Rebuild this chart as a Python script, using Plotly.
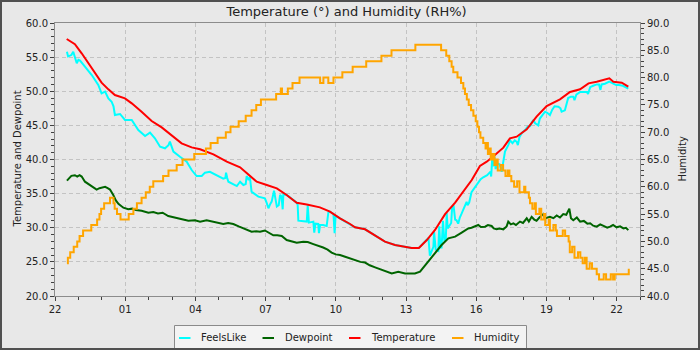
import pandas as pd
import plotly.graph_objects as go

# ---------------- data (hours after 22:00) ----------------
START = "2024-01-01 22:00"

temp_hours = [0.50, 0.85, 1.14, 1.42, 1.71, 1.99, 2.28, 2.56, 2.99, 3.28, 3.70, 4.13, 4.56, 4.99,
              5.41, 5.84, 6.20, 6.77, 7.34, 7.91, 8.33, 8.62, 9.05, 9.48, 9.90, 10.33, 10.76,
              11.32, 11.75, 12.18, 12.61, 12.82, 13.25, 13.68, 14.10, 14.53, 14.96, 15.24, 15.55,
              15.89, 16.24, 16.67, 17.10, 17.45, 17.81, 18.16, 18.45, 18.80, 19.16, 19.44, 19.73,
              20.16, 20.58, 21.01, 21.58, 22.01, 22.44, 22.80, 23.15, 23.69, 23.86, 24.22, 24.50]
temp_values = [57.66, 56.9, 55.56, 54.1, 52.6, 51.26, 50.28, 49.45, 48.96, 48.23, 47.0, 45.64, 44.71,
               43.59, 42.37, 41.78, 41.49, 40.76, 39.68, 38.85, 37.58, 36.75, 36.26, 35.78, 34.8,
               33.67, 33.4, 32.99, 32.36, 31.38, 30.55, 30.06, 29.77, 28.79, 27.96, 27.47, 27.23,
               27.03, 27.03, 28.2, 29.67, 32.0, 33.67, 35.29, 37.0, 39.05, 39.68, 40.66, 41.73,
               43.1, 43.34, 44.42, 46.28, 47.84, 48.81, 49.89, 50.28, 51.16, 51.4, 51.89, 51.4,
               51.26, 50.67]

feels_hours = [0.51, 0.56, 0.70, 0.78, 0.93, 1.00, 1.07, 1.15, 1.28, 1.57, 1.85, 1.99, 2.14, 2.28,
               2.42, 2.50, 2.56, 2.78, 2.99, 3.28, 3.56, 3.85, 4.06, 4.27, 4.49, 4.70, 4.85, 4.91,
               5.00, 5.06, 5.34, 5.63, 5.84, 6.05, 6.27, 6.41, 6.62, 6.91, 7.19, 7.28, 7.31, 7.36,
               7.41, 7.77, 7.85, 7.91, 8.05, 8.15, 8.19, 8.28, 8.33, 8.40, 8.69, 8.97, 9.05, 9.12,
               9.20, 9.26, 9.36, 9.42, 9.48, 9.56, 9.62, 9.68, 9.73, 9.76, 9.90, 10.33, 10.37,
               10.40, 10.76, 10.80, 10.85, 11.04, 11.08, 11.13, 11.25, 11.28, 11.33, 11.46, 11.61,
               11.68, 11.75, 11.90, 11.95, 11.99, 12.18, 12.61, 12.82, 13.25, 13.68, 14.10, 14.53,
               14.96, 15.24, 15.55, 15.89, 15.96, 16.02, 16.10, 16.17, 16.20, 16.27, 16.38, 16.42,
               16.47, 16.52, 16.58, 16.64, 16.70, 16.74, 16.78, 16.86, 16.93, 16.97, 17.03, 17.10,
               17.16, 17.23, 17.30, 17.38, 17.50, 17.59, 17.63, 17.70, 17.80, 17.97, 18.10, 18.19,
               18.30, 18.47, 18.55, 18.61, 18.64, 18.68, 18.72, 18.78, 18.83, 18.90, 19.00, 19.09,
               19.15, 19.23, 19.37, 19.45, 19.55, 19.65, 19.73, 19.78, 19.85, 19.95, 20.09, 20.20,
               20.30, 20.44, 20.52, 20.60, 20.65, 20.72, 20.85, 20.94, 21.05, 21.15, 21.25, 21.35,
               21.51, 21.60, 21.65, 21.79, 21.93, 22.05, 22.15, 22.20, 22.28, 22.44, 22.60, 22.73,
               22.78, 22.87, 23.00, 23.15, 23.25, 23.31, 23.36, 23.50, 23.69, 23.80, 23.98, 24.10,
               24.27, 24.50]
feels_values = [55.8, 55.1, 55.3, 55.8, 54.1, 54.6, 54.48, 54.2, 53.6, 52.38, 50.92, 49.7, 49.94,
                48.96, 48.47, 47.8, 46.52, 46.67, 45.79, 45.79, 44.32, 43.44, 43.93, 43.1, 41.88,
                41.64, 42.1, 42.61, 41.5, 41.15, 40.41, 39.68, 38.46, 37.58, 37.58, 38.07, 38.2,
                37.7, 37.2, 37.3, 38.07, 37.3, 36.75, 36.11, 36.6, 36.75, 36.26, 36.4, 37.58, 37.0,
                37.4, 35.29, 34.56, 34.32, 33.6, 32.85, 33.5, 33.83, 35.44, 34.5, 33.1, 33.3, 34.8,
                34.6, 32.7, 34.95, 34.8, 33.67, 33.34, 31.04, 30.9, 33.3, 30.75, 30.9, 29.29, 30.6,
                30.55, 29.2, 30.4, 30.4, 30.26, 32.2, 32.36, 32.0, 29.2, 31.75, 31.38, 30.55, 30.06,
                29.77, 28.79, 27.96, 27.47, 27.23, 27.03, 27.03, 28.2, 28.5, 25.9, 26.6, 27.2, 29.4,
                26.8, 26.6, 30.2, 27.1, 27.1, 31.0, 28.0, 28.2, 32.2, 29.9, 30.4, 30.7, 32.9, 33.3,
                31.2, 31.1, 30.6, 31.5, 32.1, 33.0, 33.8, 33.3, 33.7, 35.2, 36.0, 36.7, 37.1, 37.4,
                37.7, 38.0, 38.2, 37.5, 39.9, 39.0, 40.4, 38.6, 39.4, 39.3, 38.2, 39.5, 41.15, 42.1,
                42.8, 42.4, 42.8, 42.6, 42.1, 43.3, 43.9, 44.32, 44.8, 44.9, 45.8, 45.3, 45.05, 45.0,
                46.0, 46.6, 47.0, 46.8, 46.5, 47.3, 47.8, 47.74, 47.5, 47.0, 47.2, 49.0, 49.2, 49.2,
                48.7, 49.5, 49.9, 49.9, 49.9, 49.6, 50.6, 50.8, 51.0, 51.0, 50.2, 51.0, 51.1, 51.4,
                51.2, 50.9, 50.9, 50.8, 50.4]

dew_hours = [0.51, 0.60, 0.70, 0.85, 0.95, 1.05, 1.14, 1.28, 1.40, 1.50, 1.65, 1.78, 1.90, 1.99,
             2.14, 2.25, 2.35, 2.49, 2.60, 2.71, 2.92, 3.13, 3.30, 3.45, 3.70, 3.99, 4.20, 4.40,
             4.60, 4.84, 5.13, 5.41, 5.70, 5.98, 6.20, 6.48, 6.77, 7.00, 7.19, 7.40, 7.62, 7.85,
             8.05, 8.25, 8.40, 8.60, 8.76, 8.97, 9.15, 9.33, 9.50, 9.69, 9.90, 10.10, 10.33, 10.61,
             10.80, 11.04, 11.25, 11.46, 11.65, 11.82, 12.00, 12.18, 12.40, 12.61, 12.82, 13.05,
             13.25, 13.45, 13.68, 13.90, 14.10, 14.39, 14.67, 14.96, 15.20, 15.38, 15.60, 15.89,
             16.24, 16.52, 16.81, 17.10, 17.38, 17.66, 17.80, 17.95, 18.09, 18.20, 18.38, 18.50,
             18.66, 18.75, 18.87, 19.00, 19.16, 19.30, 19.37, 19.48, 19.59, 19.70, 19.87, 20.00,
             20.16, 20.25, 20.37, 20.48, 20.58, 20.70, 20.87, 20.95, 21.05, 21.15, 21.30, 21.44,
             21.58, 21.72, 21.85, 21.98, 22.05, 22.15, 22.30, 22.44, 22.60, 22.75, 22.87, 23.00,
             23.15, 23.30, 23.44, 23.60, 23.72, 23.85, 24.00, 24.15, 24.29, 24.40, 24.50]
dew_values = [36.9, 37.3, 37.6, 37.7, 37.5, 37.7, 37.5, 36.75, 36.5, 36.26, 35.9, 35.6, 35.8, 35.87,
              36.0, 35.8, 35.6, 34.8, 34.0, 33.5, 32.94, 32.7, 32.8, 32.6, 32.5, 32.2, 32.3, 32.1,
              32.2, 31.72, 31.5, 31.23, 31.03, 31.1, 30.9, 31.1, 30.9, 30.7, 30.55, 30.7, 30.55,
              30.2, 29.9, 29.7, 29.43, 29.5, 29.43, 29.6, 29.2, 28.9, 28.9, 28.8, 28.2, 28.0, 27.8,
              27.96, 27.9, 27.6, 27.4, 27.1, 26.8, 26.35, 26.1, 26.0, 25.76, 25.5, 25.18, 25.0, 24.9,
              24.5, 24.2, 23.9, 23.7, 23.3, 23.56, 23.3, 23.3, 23.3, 23.56, 24.8, 26.26, 27.47,
              28.45, 28.7, 29.3, 29.9, 30.0, 30.16, 30.4, 30.1, 30.16, 30.4, 30.26, 29.9, 29.77,
              29.9, 29.77, 30.2, 30.9, 30.5, 30.65, 30.4, 30.9, 30.7, 31.38, 30.9, 31.6, 31.2, 31.03,
              31.5, 32.0, 31.4, 31.5, 31.6, 31.4, 31.8, 31.5, 32.0, 31.9, 32.8, 31.4, 31.1, 31.5,
              30.9, 31.0, 30.6, 30.65, 30.3, 30.16, 30.5, 30.26, 30.0, 30.16, 30.4, 30.06, 30.2,
              29.9, 30.0, 29.65]

hum_hours = [0.51, 0.55, 0.65, 0.80, 0.95, 1.05, 1.20, 1.55, 1.80, 1.90, 1.97, 2.10, 2.35, 2.50,
             2.55, 2.65, 2.80, 3.15, 3.35, 3.50, 3.70, 3.88, 4.05, 4.20, 4.62, 4.85, 5.20, 5.45,
             5.95, 6.45, 6.65, 6.95, 7.30, 7.50, 7.85, 8.15, 8.40, 8.60, 8.80, 9.45, 9.65, 9.70,
             9.95, 10.15, 10.45, 11.33, 11.47, 11.68, 11.90, 12.28, 12.72, 13.30, 13.95, 14.38,
             15.40, 16.50, 16.72, 16.85, 16.95, 17.02, 17.20, 17.35, 17.45, 17.52, 17.60, 17.68,
             17.78, 17.88, 17.98, 18.05, 18.12, 18.18, 18.30, 18.40, 18.45, 18.50, 18.55, 18.62,
             18.70, 18.78, 18.85, 18.92, 19.05, 19.15, 19.25, 19.35, 19.42, 19.50, 19.62, 19.75,
             19.85, 20.05, 20.10, 20.25, 20.30, 20.40, 20.50, 20.55, 20.70, 20.78, 20.90, 20.95,
             21.10, 21.15, 21.30, 21.40, 21.45, 21.70, 21.80, 21.95, 22.00, 22.10, 22.20, 22.35,
             22.45, 22.55, 22.65, 22.72, 22.85, 22.95, 23.15, 23.25, 23.45, 23.55, 23.75, 23.85,
             23.92, 24.50, 24.52]
hum_values = [46, 47, 48, 49, 50, 51, 52, 53, 54, 55, 56, 57, 58, 57, 56, 55, 54, 55, 56, 57, 58,
              59, 60, 61, 62, 63, 64, 65, 66, 67, 68, 69, 70, 71, 72, 73, 74, 75, 76, 77, 78, 77,
              78, 79, 80, 79, 80, 79, 80, 81, 82, 83, 84, 85, 86, 85, 84, 83, 82, 81, 80, 79, 78,
              77, 76, 75, 74, 73, 72, 71, 70, 69, 68, 67, 68, 66, 67, 65, 66, 64, 65, 63, 64, 63,
              62, 63, 62, 61, 60, 61, 59, 60, 59, 58, 57, 56, 57, 55, 56, 54, 55, 53, 54, 52, 53,
              52, 51, 52, 51, 50, 48, 49, 47, 48, 47, 46, 47, 45, 46, 45, 44, 43, 44, 43, 44, 43,
              44, 44, 45]

series_names = ["FeelsLike", "Dewpoint", "Temperature", "Humidity"]
series_colors = ["#00ffff", "#006400", "#ff0000", "#ffa500"]
y_ticks_left = [20, 25, 30, 35, 40, 45, 50, 55, 60]
y_ticks_right = [40, 45, 50, 55, 60, 65, 70, 75, 80, 85, 90]

# ---------------- figure ----------------
t0 = pd.Timestamp(START)


def to_time(hours):
    return t0 + pd.to_timedelta(hours, unit="h")


FONT = "DejaVu Sans, Verdana, sans-serif"
W, H = 700, 350
L, R, T, B = 55, 60, 23, 54
PW, PH = W - L - R, H - T - B


def px(x):
    return (x - L) / PW


def py(y):
    return (H - B - y) / PH


fig = go.Figure()
fig.add_trace(go.Scatter(x=to_time(feels_hours), y=feels_values, name=series_names[0],
                         mode="lines", line=dict(color=series_colors[0], width=2)))
fig.add_trace(go.Scatter(x=to_time(dew_hours), y=dew_values, name=series_names[1],
                         mode="lines", line=dict(color=series_colors[1], width=2)))
fig.add_trace(go.Scatter(x=to_time(temp_hours), y=temp_values, name=series_names[2],
                         mode="lines", line=dict(color=series_colors[2], width=2)))
fig.add_trace(go.Scatter(x=to_time(hum_hours), y=hum_values, name=series_names[3], yaxis="y2",
                         mode="lines", line=dict(color=series_colors[3], width=2, shape="hv")))

axis_common = dict(showline=True, linecolor="#8c8c8c", linewidth=1, ticks="outside", ticklen=4,
                   tickcolor="#404040", tickfont=dict(family=FONT, size=10, color="#222222"),
                   zeroline=False)

fig.update_layout(
    width=W, height=H,
    margin=dict(l=L, r=R, t=T, b=B, pad=0),
    paper_bgcolor="#e8e8e8", plot_bgcolor="#e8e8e8",
    showlegend=False,
    title=dict(text="Temperature (°) and Humidity (RH%)", x=0.4984, xref="paper",
               xanchor="center", y=1 - 11 / H, yref="container", yanchor="middle",
               font=dict(family=FONT, size=13, color="#222222")),
    xaxis=dict(type="date", range=[t0, to_time(25)], tick0=t0, dtick=3 * 3600000,
               tickformat="%H", mirror=True, showgrid=True, gridcolor="#c3c3c3",
               griddash="4px,3px", gridwidth=1,
               minor=dict(dtick=3600000, ticks="outside", ticklen=3, tickcolor="#404040",
                          showgrid=False),
               **axis_common),
    yaxis=dict(range=[20, 60], tickvals=y_ticks_left, tickformat=".1f", showgrid=True,
               gridcolor="#c3c3c3", griddash="4px,3px", gridwidth=1,
               minor=dict(dtick=1, ticks="outside", ticklen=3, tickcolor="#404040",
                          showgrid=False),
               **axis_common),
    yaxis2=dict(range=[40, 90], tickvals=y_ticks_right, tickformat=".1f", overlaying="y",
                side="right", showgrid=False,
                minor=dict(dtick=1, ticks="outside", ticklen=3, tickcolor="#404040",
                           showgrid=False),
                **axis_common),
)

# axis titles
fig.add_annotation(text="Temperature and Dewpoint", xref="paper", yref="paper", x=px(17), y=0.5,
                   xanchor="center", yanchor="middle", textangle=-90, showarrow=False,
                   font=dict(family=FONT, size=10, color="#222222"))
fig.add_annotation(text="Humidity", xref="paper", yref="paper", x=px(682), y=0.5,
                   xanchor="center", yanchor="middle", textangle=-90, showarrow=False,
                   font=dict(family=FONT, size=10, color="#222222"))

# legend box drawn as shapes + text
fig.add_shape(type="rect", xref="paper", yref="paper", x0=px(174.5), x1=px(526.5),
              y0=py(349), y1=py(325.5), line=dict(color="#8a8a8a", width=1), fillcolor="#f3f3f3",
              layer="above")
legend_sym_x = [179, 262.5, 349, 452]
legend_text_x = [199, 283, 369, 472]
for name, color, sx, tx in zip(series_names, series_colors, legend_sym_x, legend_text_x):
    fig.add_shape(type="line", xref="paper", yref="paper", x0=px(sx), x1=px(sx + 11.5),
                  y0=py(338), y1=py(338), line=dict(color=color, width=2), layer="above")
    fig.add_annotation(text=name, xref="paper", yref="paper", x=px(tx), y=py(337.5),
                       xanchor="left", yanchor="middle", showarrow=False,
                       font=dict(family=FONT, size=10, color="#222222"))

# outer dark border
fig.add_shape(type="rect", xref="paper", yref="paper", x0=px(1), x1=px(699), y0=py(349),
              y1=py(1), line=dict(color="#505050", width=2), layer="above")

fig.write_html("out.html")
